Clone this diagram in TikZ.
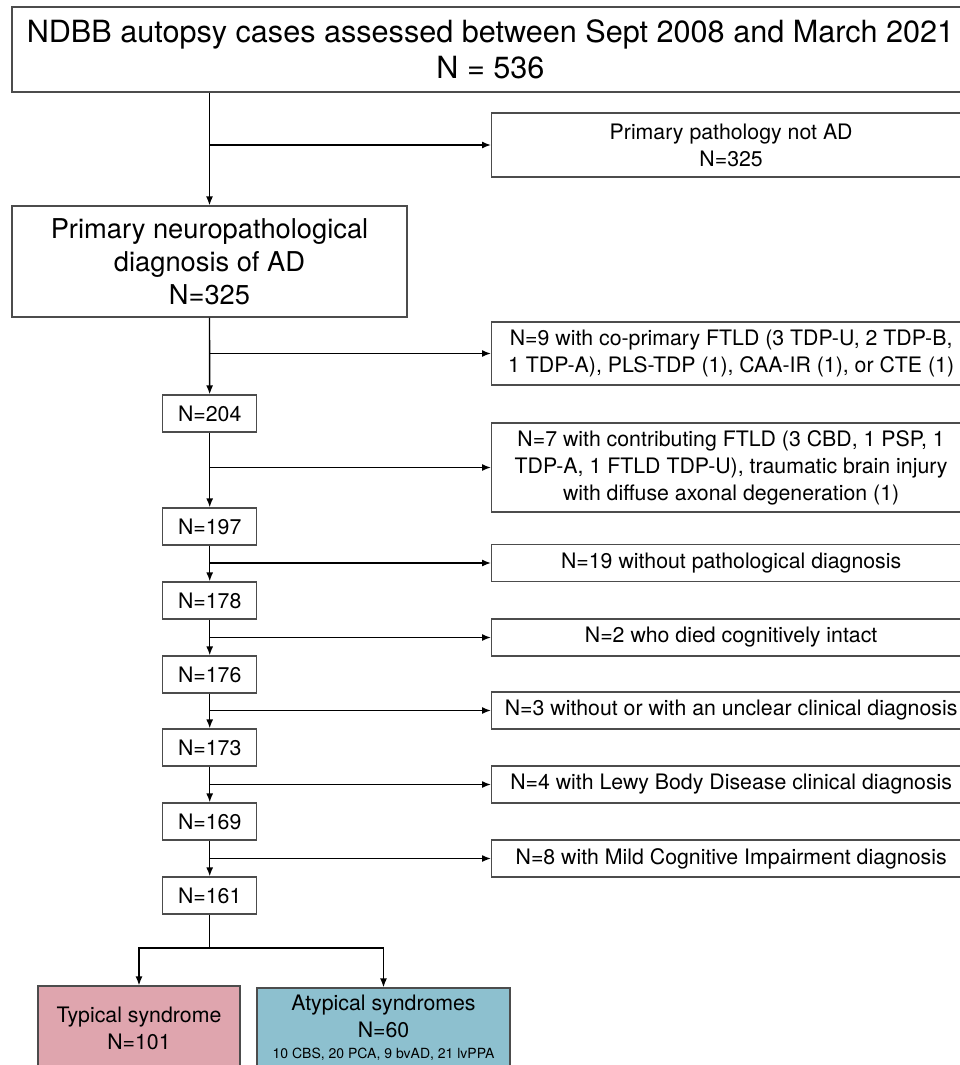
\documentclass[tikz,border=0pt]{standalone}
\usepackage{fontspec}
\setmainfont{TeX Gyre Heros}
\usetikzlibrary{arrows.meta}
\definecolor{typpink}{RGB}{223,165,174}
\definecolor{atypblue}{RGB}{141,192,207}

\begin{document}
\begin{tikzpicture}
	[x=1pt, y=-1pt, line width=1.4pt,
	box/.style={draw=black!70, line width=1.3pt, fill=white, inner sep=0pt, align=center, font=\fontsize{21.3}{27}\selectfont},
	nbox/.style={box, minimum width=94pt, minimum height=37pt},
	sidebox/.style={box, anchor=west, minimum width=479pt},
	arr/.style={-{Latex[length=9pt,width=7pt]}}]
	\useasboundingbox (0,0) rectangle (960,1065);

	\node[box, minimum width=957pt, minimum height=85pt, font=\fontsize{30.6}{36}\selectfont] (all) at (490.5,49.5) {NDBB autopsy cases assessed between Sept 2008 and March 2021\\N = 536};
	\node[box, minimum width=395pt, minimum height=111pt, font=\fontsize{27.3}{33}\selectfont] (prim) at (209.5,261.5) {Primary neuropathological\\diagnosis of AD\\N=325};

	% side boxes
	\node[sidebox, minimum height=64pt] (notad) at (491,145) {Primary pathology not AD\\N=325};
	\node[sidebox, minimum height=63pt] (copri) at (491,353.5) {N=9 with co-primary FTLD (3 TDP-U, 2 TDP-B,\\1 TDP-A), PLS-TDP (1), CAA-IR (1), or CTE (1)};
	\node[sidebox, minimum height=89pt] (contrib) at (491,467.5) {N=7 with contributing FTLD (3 CBD, 1 PSP, 1\\TDP-A, 1 FTLD TDP-U), traumatic brain injury\\with diffuse axonal degeneration (1)};
	\node[sidebox, minimum height=37pt] (nopath) at (491,563) {N=19 without pathological diagnosis};
	\node[sidebox, minimum height=37pt] (intact) at (491,637.5) {N=2 who died cognitively intact};
	\node[sidebox, minimum height=37pt] (unclear) at (491,710.5) {N=3 without or with an unclear clinical diagnosis};
	\node[sidebox, minimum height=37pt] (lewy) at (491,784.5) {N=4 with Lewy Body Disease clinical diagnosis};
	\node[sidebox, minimum height=37pt] (mci) at (491,858.5) {N=8 with Mild Cognitive Impairment diagnosis};

	% remaining counts
	\node[nbox] (n204) at (209.7,413.5) {N=204};
	\node[nbox] (n197) at (209.7,526.5) {N=197};
	\node[nbox] (n178) at (209.7,600.5) {N=178};
	\node[nbox] (n176) at (209.7,674.5) {N=176};
	\node[nbox] (n173) at (209.7,747.5) {N=173};
	\node[nbox] (n169) at (209.7,821.5) {N=169};
	\node[nbox] (n161) at (209.7,895.5) {N=161};

	\node[box, fill=typpink, minimum width=202pt, minimum height=84pt] (typ) at (139,1028) {Typical syndrome\\N=101};
	\node[box, fill=atypblue, minimum width=253pt, minimum height=80pt] (atyp) at (383.5,1028) {Atypical syndromes\\N=60\\[-6pt]{\fontsize{14}{16}\selectfont 10 CBS, 20 PCA, 9 bvAD, 21 lvPPA}};

	% trunk
	\draw[arr] (prim.north |- all.south) -- (prim.north);
	\draw[arr] (prim.south) -- (n204);
	\draw[arr] (n204) -- (n197);
	\draw[arr] (n197) -- (n178);
	\draw[arr] (n178) -- (n176);
	\draw[arr] (n176) -- (n173);
	\draw[arr] (n173) -- (n169);
	\draw[arr] (n169) -- (n161);

	% exclusions
	\draw[arr] (prim.north |- notad.west) -- (notad.west);
	\draw[arr] (prim.south |- copri.west) -- (copri.west);
	\draw[arr] (n204.south |- contrib.west) -- (contrib.west);
	\draw[arr] (n197.south |- nopath.west) -- (nopath.west);
	\draw[arr] (n178.south |- intact.west) -- (intact.west);
	\draw[arr] (n176.south |- unclear.west) -- (unclear.west);
	\draw[arr] (n173.south |- lewy.west) -- (lewy.west);
	\draw[arr] (n169.south |- mci.west) -- (mci.west);

	% split
	\coordinate (split) at (209.7,948);
	\draw (n161) -- (split);
	\draw[arr] (split) -| (typ.north);
	\draw[arr] (split) -| (atyp.north);
\end{tikzpicture}
\end{document}
